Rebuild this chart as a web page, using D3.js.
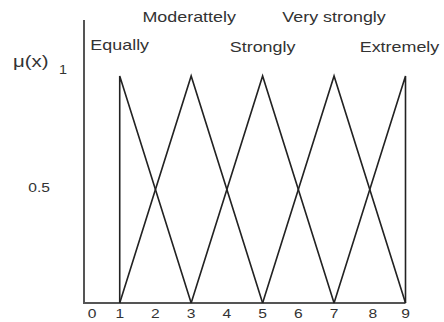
<!DOCTYPE html>
<html><head><meta charset="utf-8">
<script src="https://cdn.jsdelivr.net/npm/d3@7"></script>
<style>body{margin:0;background:#fff}text{font-family:"Liberation Sans",Arial,sans-serif;fill:#333}</style>
</head><body>
<script>
const terms = ["Equally","Moderattely","Strongly","Very strongly","Extremely"];
const peaks = [1,3,5,7,9];
const lefts = [1,1,3,5,7];
const rights = [3,5,7,9,9];
const rows = [2,1,2,1,2];
const xTicks = [0,1,2,3,4,5,6,7,8,9];
const yTicks = [0.5,1];

const W=444,H=322;
const svg=d3.select("body").append("svg").attr("width",W).attr("height",H);
const x=d3.scaleLinear().domain([0,9]).range([84,405.5]);
const y=d3.scaleLinear().domain([0,1]).range([303,76]);
const yTop=1.247;

// axes
svg.append("path").attr("d",`M${x(0)},${y(yTop)}V${y(0)}H${x(9)}`)
  .attr("fill","none").attr("stroke","#555").attr("stroke-width",2);

// triangles
const line=d3.line().x(d=>x(d[0])).y(d=>y(d[1]));
terms.forEach((t,i)=>{
  svg.append("path").attr("d",line([[lefts[i],0],[peaks[i],1],[rights[i],0]]))
    .attr("fill","none").attr("stroke","#222").attr("stroke-width",1.6).attr("stroke-linejoin","miter");
});

// term labels
const rowY={1:22,2:52};
terms.forEach((t,i)=>{
  const cx=x(peaks[i])-(i===terms.length-1?6:0)-(i===1?2:0), by=rowY[rows[i]]-(i===0?2:0);
  svg.append("text").attr("transform",`translate(${cx},${by}) scale(1.28,1)`)
    .attr("text-anchor","middle").attr("font-size",14).text(t);
});

// x tick labels
svg.selectAll(".xt").data(xTicks).enter().append("text")
  .attr("transform",d=>`translate(${x(d)+(d===0?8:0)+(d===8?3:0)},318) scale(1.2,1)`)
  .attr("text-anchor","middle").attr("font-size",13).text(d=>d);

// y tick labels
svg.append("text").attr("transform",`translate(50,${y(0.5)+2}) scale(1.2,1)`)
  .attr("text-anchor","end").attr("font-size",13).text(d3.format(".1f")(yTicks[0]));
svg.append("text").attr("transform",`translate(63,${y(1)-2}) scale(1.2,1)`)
  .attr("text-anchor","middle").attr("font-size",12).text(yTicks[1]);

// axis title
svg.append("text").attr("transform","translate(13,67) scale(1.2,1)")
  .attr("font-size",17).text("μ(x)");
</script>
</body></html>
